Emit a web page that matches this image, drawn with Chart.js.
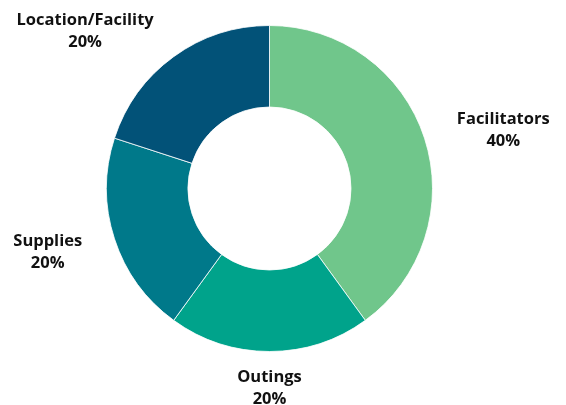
<!DOCTYPE html>
<html lang="en">
<head>
    <meta charset="UTF-8">
    <title>Cost breakdown</title>
    <script src="https://cdn.jsdelivr.net/npm/chart.js@4.4.9/dist/chart.umd.js"></script>
    <style>
        html, body { margin: 0; padding: 0; background: #fff; }
        canvas { display: block; }
    </style>
</head>
<body>
    <canvas id="donut" width="566" height="405"></canvas>
    <script>
        const categories = ["Facilitators", "Outings", "Supplies", "Location/Facility"];
        const shares = [40, 20, 20, 20];
        const sliceColors = ["#70c68b", "#00a38b", "#00798a", "#025278"];

        // draws "Name\nNN%" outside each slice, Excel style (aligned toward the slice)
        const outsideLabels = {
            id: 'outsideLabels',
            afterDatasetsDraw(chart, args, opts) {
                const ctx = chart.ctx;
                const meta = chart.getDatasetMeta(0);
                const total = shares.reduce((a, b) => a + b, 0);
                ctx.save();
                ctx.font = opts.font;
                ctx.fillStyle = opts.color;
                ctx.textBaseline = 'middle';
                ctx.textAlign = 'center';
                meta.data.forEach((arc, i) => {
                    const mid = (arc.startAngle + arc.endAngle) / 2;
                    const dx = Math.cos(mid), dy = Math.sin(mid);
                    const r = arc.outerRadius + opts.gap;
                    const ax = arc.x + dx * r, ay = arc.y + dy * r + opts.nudgeY;
                    const lines = [categories[i], Math.round(shares[i] / total * 100) + '%'];
                    const w = Math.max(...lines.map(l => ctx.measureText(l).width));
                    let cx = ax;
                    if (dx > 0.1) cx = ax + w / 2;
                    else if (dx < -0.1) cx = ax - w / 2;
                    const top = ay - (lines.length - 1) * opts.lineHeight / 2;
                    lines.forEach((l, k) => ctx.fillText(l, cx, top + k * opts.lineHeight));
                });
                ctx.restore();
            }
        };

        new Chart(document.getElementById('donut'), {
            type: 'doughnut',
            data: {
                labels: categories,
                datasets: [{
                    data: shares,
                    backgroundColor: sliceColors,
                    borderColor: 'rgba(255,255,255,0.8)',
                    borderWidth: 1
                }]
            },
            options: {
                responsive: false,
                animation: false,
                cutout: '50%',
                layout: { padding: { top: 25, bottom: 53, left: 106, right: 133 } },
                plugins: {
                    legend: { display: false },
                    tooltip: { enabled: false },
                    outsideLabels: {
                        font: 'bold 16.5px "Open Sans"',
                        color: '#111111',
                        gap: 34,
                        lineHeight: 22,
                        nudgeY: 2.5
                    }
                }
            },
            plugins: [outsideLabels]
        });
    </script>
</body>
</html>
